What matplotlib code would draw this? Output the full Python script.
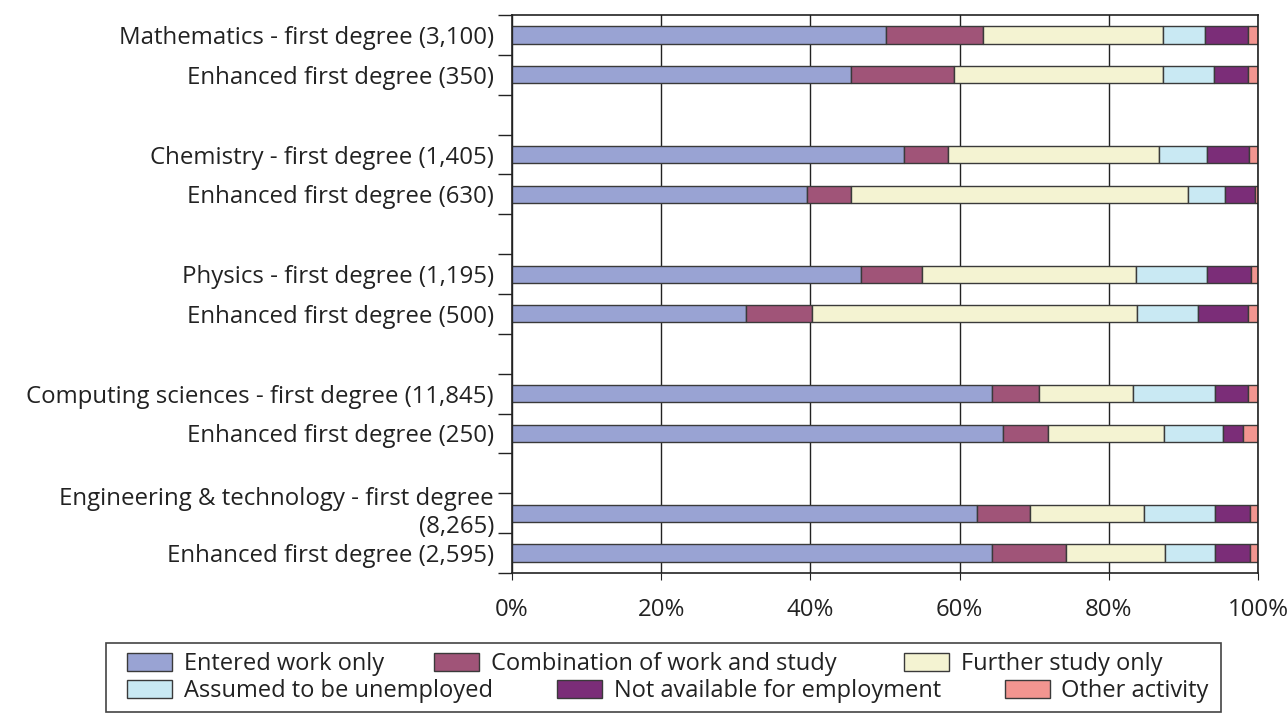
import matplotlib.pyplot as plt
from matplotlib.patches import Patch, Rectangle
from matplotlib.transforms import ScaledTranslation
import numpy as np

plt.rcParams['font.family'] = ['Open Sans', 'DejaVu Sans']

# categories top to bottom (None = blank spacer row)
categorias = [
    "Mathematics - first degree (3,100)",
    "Enhanced first degree (350)",
    None,
    "Chemistry - first degree (1,405)",
    "Enhanced first degree (630)",
    None,
    "Physics - first degree (1,195)",
    "Enhanced first degree (500)",
    None,
    "Computing sciences - first degree (11,845)",
    "Enhanced first degree (250)",
    None,
    "Engineering & technology - first degree\n(8,265)",
    "Enhanced first degree (2,595)",
]

series = [
    "Entered work only",
    "Combination of work and study",
    "Further study only",
    "Assumed to be unemployed",
    "Not available for employment",
    "Other activity",
]
colores = ["#99A3D3", "#A05478", "#F4F3D2", "#C9E9F3", "#7B2D78", "#F29590"]

# percentages per bar (only non-blank rows), order as series
entered_work = [50.2, 45.4, 52.5, 39.6, 46.8, 31.4, 64.3, 65.8, 62.4, 64.3]
work_study   = [13.0, 13.8,  6.0,  5.8,  8.1,  8.8,  6.3,  6.1,  7.1, 10.0]
further      = [24.0, 28.0, 28.2, 45.2, 28.7, 43.6, 12.7, 15.5, 15.2, 13.2]
unemployed   = [ 5.7,  6.9,  6.5,  5.0,  9.6,  8.1, 11.0,  7.9,  9.5,  6.8]
not_avail    = [ 5.7,  4.5,  5.6,  4.0,  5.8,  6.7,  4.3,  2.7,  4.7,  4.6]
other        = [ 1.4,  1.4,  1.2,  0.4,  1.0,  1.4,  1.4,  2.0,  1.1,  1.1]

valores = np.array([entered_work, work_study, further, unemployed, not_avail, other])
pos = [i for i, c in enumerate(categorias) if c is not None]

fs = 17.3
fs_leg = 17

fig = plt.figure(figsize=(12.88, 7.22), dpi=100)
ax = fig.add_axes([0.3975, 0.2064, 0.5792, 0.7728])

# grid behind bars
ax.set_axisbelow(True)
ax.grid(axis="x", color="#222222", linewidth=1)

izq = np.zeros(len(pos))
for k in range(len(series)):
    ax.barh(pos, valores[k], left=izq, height=0.43, color=colores[k],
            edgecolor="#3a3a3a", linewidth=1, label=series[k])
    izq = izq + valores[k]

ax.set_xlim(0, 100)
ax.set_ylim(len(categorias) - 0.5, -0.5)
ax.set_xticks(range(0, 101, 20))
ax.set_xticklabels([f"{v}%" for v in range(0, 101, 20)], fontsize=fs, color="#222222")
ax.tick_params(axis="x", length=5, pad=13, color="#222222")

ax.set_yticks(pos)
ax.set_yticklabels([categorias[i] for i in pos], fontsize=fs, color="#222222",
                   ha="right", multialignment="right")
ax.tick_params(axis="y", which="major", length=0, pad=13)
ax.set_yticks(np.arange(-0.5, len(categorias), 1), minor=True)
ax.tick_params(axis="y", which="minor", length=10, width=1, color="#222222")

for s in ax.spines.values():
    s.set_color("#222222")
    s.set_linewidth(1.2)

# legend: two rows, entries placed like the original
filas = [
    [(0, 0.0985), (1, 0.3370), (2, 0.7018)],
    [(3, 0.0985), (4, 0.4325), (5, 0.7800)],
]
ys = [0.0805, 0.0432]
for fila, yy in zip(filas, ys):
    for k, xx in fila:
        h = Patch(facecolor=colores[k], edgecolor="#3a3a3a", linewidth=1)
        lg = fig.legend([h], [series[k]], loc="center left", bbox_to_anchor=(xx, yy),
                        frameon=False, fontsize=fs_leg, handlelength=1.9, handleheight=0.8,
                        handletextpad=0.5, borderpad=0, borderaxespad=0)
        for t in lg.get_texts():
            t.set_color("#222222")

fig.patches.append(Rectangle((0.0820, 0.0139), 0.866, 0.0956, transform=fig.transFigure,
                             facecolor="none", edgecolor="#444444", linewidth=1.2))

# two-line label: wider line gap and a small lift, as in the original
for lbl in ax.get_yticklabels():
    if "\n" in lbl.get_text():
        lbl.set_linespacing(1.25)
        lbl.set_transform(lbl.get_transform() + ScaledTranslation(0, 4 / 72, fig.dpi_scale_trans))

fig.savefig("out.png", dpi=100)
